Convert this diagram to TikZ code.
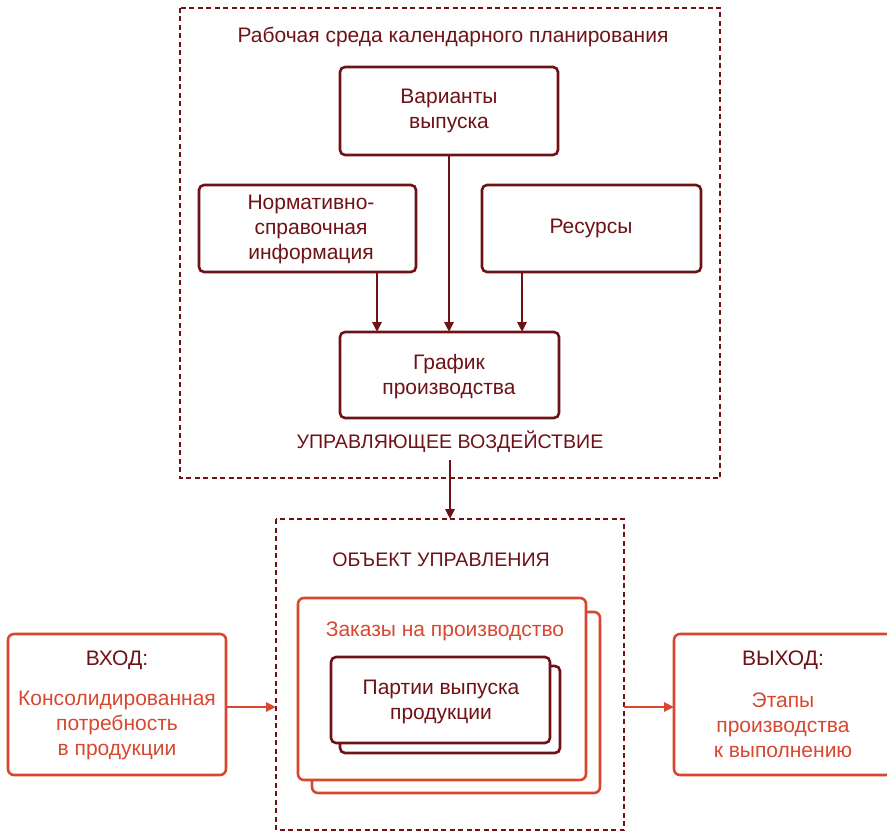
\documentclass[tikz,border=0pt]{standalone}
\usepackage{fontspec}
\setmainfont{Liberation Sans}
\usetikzlibrary{arrows.meta}
\definecolor{maroon}{RGB}{110,18,22}
\definecolor{brick}{RGB}{216,72,48}
\begin{document}
\begin{tikzpicture}[x=1pt,y=-1pt,
  every node/.style={font=\fontsize{21}{25}\selectfont, align=center, inner sep=0pt},
  caps/.style={font=\fontsize{19.6}{24}\selectfont},
  frame/.style={draw=maroon, line width=1.3pt, dash pattern=on 5pt off 3.5pt},
  darkbox/.style={draw=maroon, line width=2.6pt, rounded corners=5pt, fill=white, text=maroon},
  redbox/.style={draw=brick, line width=2.6pt, rounded corners=6pt, fill=white},
  darkarrow/.style={draw=maroon, line width=2.6pt, -{Triangle[length=10pt,width=9pt]}},
  redarrow/.style={draw=brick, line width=2.6pt, -{Triangle[length=10pt,width=9pt]}},
  label/.style={text=maroon}]
\useasboundingbox (0,0) rectangle (887,832);

% planning environment
\draw[frame] (180,8) rectangle (720,478);
\node[label] (title) at (453,37) {Рабочая среда календарного планирования};

\draw[darkbox] (340,67) rectangle (558,155);
\node[label] (var) at (449,111) {Варианты\\выпуска};
\coordinate (varB) at (449,155);

\draw[darkbox] (199,185) rectangle (416,272);
\node[label] (norm) at (311,229) {Нормативно-\\справочная\\информация};
\coordinate (normB) at (377,272);

\draw[darkbox] (482,185) rectangle (701,272);
\node[label] (res) at (591,228) {Ресурсы};
\coordinate (resB) at (522,272);

\draw[darkbox] (340,332) rectangle (559,418);
\node[label] (plan) at (449,377) {График\\производства};
\coordinate (planTa) at (377,332);
\coordinate (planTb) at (449,332);
\coordinate (planTc) at (522,332);

\node[label, caps] (ctrl) at (450,442) {УПРАВЛЯЮЩЕЕ ВОЗДЕЙСТВИЕ};

\draw[darkarrow] (varB) -- (planTb);
\draw[darkarrow] (normB) -- (planTa);
\draw[darkarrow] (resB) -- (planTc);

% controlled object
\coordinate (ctrlB) at (450,460);
\coordinate (objT) at (450,519);
\draw[darkarrow] (ctrlB) -- (objT);
\draw[frame] (276,519) rectangle (624,830);
\node[label, caps] (obj) at (441,560) {ОБЪЕКТ УПРАВЛЕНИЯ};

\draw[redbox] (312,612) rectangle (600,793);
\draw[redbox] (298,598) rectangle (586,780);
\node[text=brick] (orders) at (445,631) {Заказы на производство};

\draw[darkbox] (340,666) rectangle (560,753);
\draw[darkbox] (331,657) rectangle (550,743);
\node[label] (lots) at (441,702) {Партии выпуска\\продукции};

% input
\draw[redbox] (8,634) rectangle (226,775);
\node[label] (inT) at (117,660) {ВХОД:};
\node[text=brick] (inX) at (117,725) {Консолидированная\\потребность\\в продукции};
\coordinate (inR) at (226,707);
\coordinate (objL) at (276,707);
\draw[redarrow] (inR) -- (objL);

% output
\draw[redbox] (674,634) rectangle (892,775);
\node[label] (outT) at (783,660) {ВЫХОД:};
\node[text=brick] (outX) at (783,725) {Этапы\\производства\\к выполнению};
\coordinate (objR) at (624,707);
\coordinate (outL) at (674,707);
\draw[redarrow] (objR) -- (outL);
\end{tikzpicture}
\end{document}
